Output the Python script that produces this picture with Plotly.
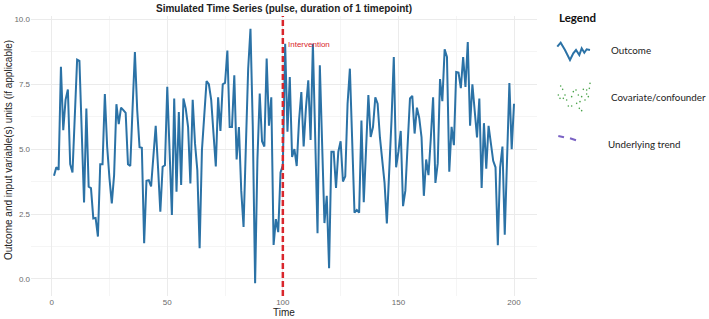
import plotly.graph_objects as go

# ---------------- data ----------------
time = list(range(1, 201))
outcome = [
    3.97, 4.30, 4.20, 8.17, 5.73, 6.90, 7.30, 4.42, 4.10, 6.30,
    8.45, 8.40, 5.50, 2.94, 6.56, 3.55, 3.50, 2.33, 2.35, 1.63,
    4.42, 4.42, 7.12, 5.09, 3.87, 2.91, 4.00, 6.73, 5.96, 6.60,
    6.50, 6.40, 4.42, 4.35, 6.60, 8.74, 6.50, 5.07, 5.05, 1.37,
    3.78, 3.80, 3.56, 4.70, 5.90, 4.30, 2.59, 4.32, 4.38, 7.40,
    4.90, 2.46, 6.95, 3.36, 6.43, 3.62, 6.95, 6.56, 5.86, 3.68,
    6.90, 5.22, 4.19, 1.18, 4.96, 6.20, 7.62, 7.50, 6.90, 5.60,
    4.33, 7.00, 5.70, 7.50, 7.55, 8.80, 5.85, 5.85, 7.85, 4.60,
    5.85, 3.40, 2.00, 5.10, 8.10, 9.64, 5.85, -0.17, 4.60, 7.14,
    5.30, 5.10, 8.49, 5.90, 7.00, 1.31, 2.30, 1.80, 4.10, 4.38,
    9.06, 5.67, 7.78, 4.70, 5.00, 4.35, 6.10, 7.20, 5.10, 6.60,
    7.65, 5.35, 9.06, 5.45, 1.76, 8.23, 5.20, 2.15, 3.20, 0.41,
    4.90, 4.90, 3.50, 4.90, 5.30, 3.75, 3.95, 6.75, 8.10, 5.45,
    2.55, 2.65, 2.55, 6.10, 2.95, 5.00, 7.08, 5.47, 5.85, 7.00,
    6.75, 5.45, 4.45, 3.70, 2.14, 3.95, 6.10, 8.55, 4.30, 4.90,
    5.70, 2.80, 3.40, 5.20, 6.95, 7.05, 5.60, 6.60, 6.20, 5.45,
    3.20, 4.60, 4.00, 5.40, 7.00, 3.70, 4.45, 7.70, 6.85, 8.85,
    8.55, 4.13, 5.86, 5.15, 7.97, 7.95, 7.35, 8.55, 7.40, 9.13,
    5.90, 7.50, 6.60, 5.45, 6.95, 3.50, 6.00, 4.25, 5.90, 5.20,
    4.55, 4.30, 1.30, 4.30, 5.10, 1.70, 4.50, 7.55, 5.00, 6.75,
]
intervention_time = [100]
y_tick_values = [0, 2.5, 5, 7.5, 10]
y_tick_labels = ["0.0", "2.5", "5.0", "7.5", "10.0"]
x_tick_values = [0, 50, 100, 150, 200]
x_tick_labels = ["0", "50", "100", "150", "200"]
legend_labels = ["Outcome", "Covariate/confounder", "Underlying trend"]

# ---------------- layout geometry ----------------
W_FIG, H_FIG = 709, 319
L, R, T, B = 31, 172, 16, 23
PW, PH = W_FIG - L - R, H_FIG - T - B


def px(x, y):
    """figure pixel -> paper coordinates"""
    return (x - L) / PW, (H_FIG - B - y) / PH


BLUE = "#2b72a6"
RED = "#d9262c"
GRID = "#ebebeb"
GRID_MINOR = "#f5f5f5"
AXIS_FONT = "Liberation Sans, Arial"

fig = go.Figure()
fig.add_trace(go.Scatter(
    x=time, y=outcome, mode="lines",
    line=dict(color=BLUE, width=2), showlegend=False, hoverinfo="skip",
))

fig.add_shape(type="line", xref="x", yref="paper",
              x0=intervention_time[0], x1=intervention_time[0], y0=0, y1=1,
              line=dict(color=RED, width=2.5, dash="6px,3px"))

fig.add_annotation(x=intervention_time[0], y=9.05, xref="x", yref="y",
                   text="Intervention", showarrow=False, xanchor="left",
                   yanchor="middle", xshift=3,
                   font=dict(family=AXIS_FONT, size=8, color=RED))

# axis titles
fig.add_annotation(x=0.5, y=px(0, 312)[1], xref="paper", yref="paper",
                   text="Time", showarrow=False, xanchor="center", yanchor="middle",
                   font=dict(family=AXIS_FONT, size=10, color="#222"))

fig.add_annotation(x=px(8, 0)[0], y=px(0, 150)[1], xref="paper", yref="paper",
                   text="Outcome and input variable(s) units (if applicable)",
                   textangle=-90, showarrow=False, xanchor="center", yanchor="middle",
                   font=dict(family=AXIS_FONT, size=10, color="#222"))

# ---------------- custom legend panel ----------------
LEG_FONT = "Lato, Open Sans, sans-serif"
lx, ly = px(557, 17.5)
fig.add_annotation(x=lx, y=ly, xref="paper", yref="paper", text="<b>Legend</b>",
                   showarrow=False, xanchor="left", yanchor="middle",
                   font=dict(family=LEG_FONT, size=11.5, color="#111"))

label_pos = [(609, 50), (609, 97), (606, 144)]
for lab, (xx, yy) in zip(legend_labels, label_pos):
    ax_, ay_ = px(xx, yy)
    fig.add_annotation(x=ax_, y=ay_, xref="paper", yref="paper", text=lab,
                       showarrow=False, xanchor="left", yanchor="middle",
                       font=dict(family=LEG_FONT, size=9.8, color="#222"))

# wavy outcome icon
wave = [(557.3, 46.7), (560.7, 42.7), (565, 50), (570, 60), (573.3, 53.3),
        (576, 50), (579.3, 55), (581.7, 48.3), (584.3, 52.7), (586.7, 49.3), (590, 50)]
path = ""
for i, (xx, yy) in enumerate(wave):
    a, b = px(xx, yy)
    path += ("M" if i == 0 else "L") + f"{a:.4f},{b:.4f} "
fig.add_shape(type="path", xref="paper", yref="paper", path=path,
              line=dict(color=BLUE, width=2))

# green dots icon
dots = [(62, 258), (68, 268), (55, 285), (70, 295), (80, 300), (95, 290), (100, 275),
        (108, 270), (115, 285), (125, 290), (130, 268), (140, 270), (148, 265),
        (145, 290), (135, 300), (120, 305), (110, 310), (95, 318), (85, 318),
        (118, 325), (125, 332), (60, 295), (75, 285), (150, 250), (140, 282)]
for cx, cy in dots:
    xx, yy = 540 + cx / 3, cy / 3
    a0, b0 = px(xx - 0.8, yy - 0.8)
    a1, b1 = px(xx + 0.8, yy + 0.8)
    fig.add_shape(type="circle", xref="paper", yref="paper",
                  x0=a0, x1=a1, y0=b1, y1=b0,
                  fillcolor="#4aa24a", line=dict(width=0))

# purple dashes icon
for (x0, y0, x1, y1) in [(558.3, 136, 564, 137.3), (570, 138.3, 576, 140.3)]:
    a0, b0 = px(x0, y0)
    a1, b1 = px(x1, y1)
    fig.add_shape(type="line", xref="paper", yref="paper",
                  x0=a0, y0=b0, x1=a1, y1=b1,
                  line=dict(color="#7a62c4", width=2))

fig.update_layout(
    width=W_FIG, height=H_FIG,
    margin=dict(l=L, r=R, t=T, b=B),
    paper_bgcolor="white", plot_bgcolor="white",
    title=dict(text="<b>Simulated Time Series (pulse, duration of 1 timepoint)</b>",
               x=(L + PW / 2) / W_FIG, xanchor="center",
               y=1 - 8 / H_FIG, yanchor="middle",
               font=dict(family=AXIS_FONT, size=10, color="#222")),
    font=dict(family=AXIS_FONT),
    showlegend=False,
)
fig.update_xaxes(range=[-8.95, 209.95], tickvals=x_tick_values, ticktext=x_tick_labels,
                 showgrid=True, gridcolor=GRID, gridwidth=1, zeroline=False,
                 showline=False, ticks="", tickfont=dict(size=8, color="#6b6b6b"),
                 minor=dict(dtick=25, tick0=0, showgrid=True, gridcolor=GRID_MINOR, gridwidth=1))
fig.update_yaxes(range=[-0.66, 10.13], tickvals=y_tick_values, ticktext=y_tick_labels,
                 showgrid=True, gridcolor=GRID, gridwidth=1, zeroline=False,
                 showline=False, ticks="", tickfont=dict(size=8, color="#6b6b6b"),
                 minor=dict(dtick=1.25, tick0=0, showgrid=True, gridcolor=GRID_MINOR, gridwidth=1))

fig.write_html("out.html")
